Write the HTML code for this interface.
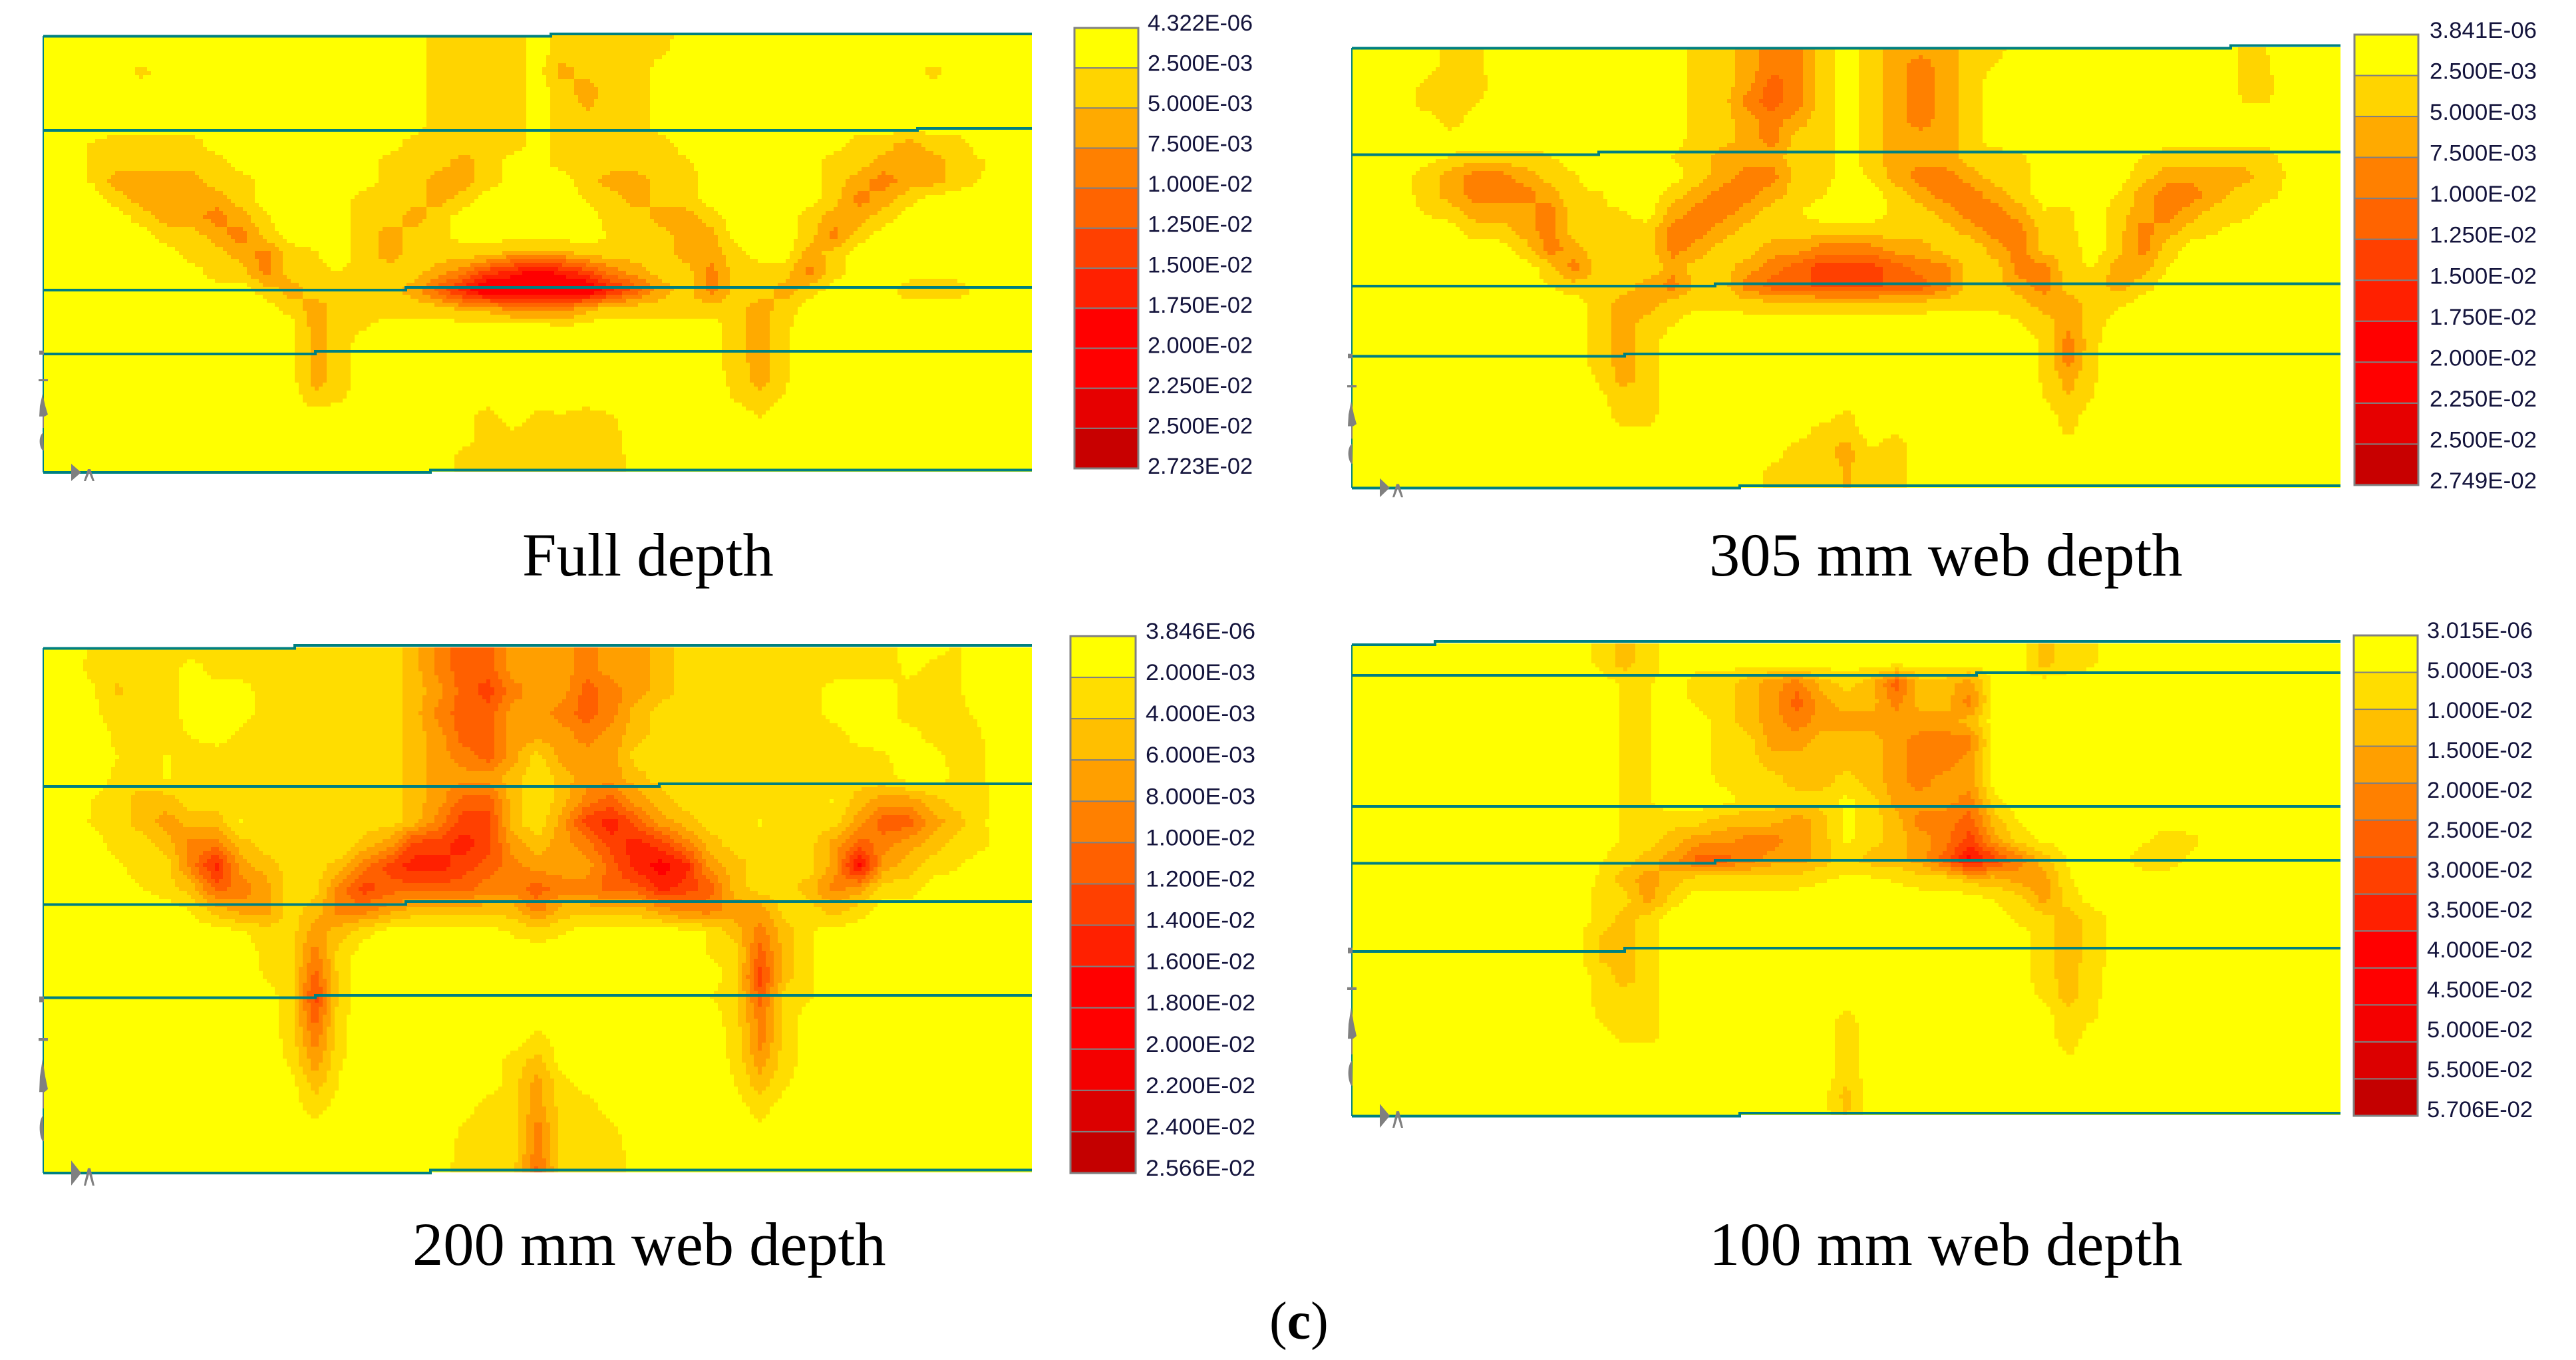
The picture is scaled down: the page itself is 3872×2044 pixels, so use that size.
<!DOCTYPE html>
<html lang="en">
<head>
<meta charset="utf-8">
<title>Strain contours by web depth</title>
<style>
html,body{margin:0;padding:0;background:#fff;width:3872px;height:2044px;overflow:hidden}
svg{display:block}
.flange{fill:none;stroke:#008080;stroke-width:4}
.title{font-family:"Liberation Serif",serif;font-size:92.5px;fill:#000}
.tick{font-family:"Liberation Sans",sans-serif;font-size:34px;fill:#14143c}
.triad{fill:#808080}
</style>
</head>
<body>
<svg id="figure" xmlns="http://www.w3.org/2000/svg" width="3872" height="2044" viewBox="0 0 3872 2044">
<rect width="3872" height="2044" fill="#fff"/>

<g>
<g id="plot-0"></g>
<path class="flange" d="M65 54.5H828V51H1551"/>
<path class="flange" d="M65 196H1379V193H1551"/>
<path class="flange" d="M65 436H610V432H1551"/>
<path class="flange" d="M65 532H474V528H1551"/>
<path class="flange" d="M65 710H647V706.5H1551"/>
<path d="M65 54V710" stroke="#008080" stroke-width="2" fill="none"/>
<g class="triad" transform="translate(65,710)">
<rect x="-6" y="-183" width="7" height="6"/><path d="M-1 -160L-7 -140H7V-137H-7V-140Z"/><path d="M-1 -118L3 -100L7 -87L2 -84H-6L-5 -100Z"/><rect x="-1" y="-84" width="2" height="17"/><path d="M0 -60C-7 -55 -7 -40 -1 -33H1Z"/><path d="M42 -13L57 0L42 13Z"/><path d="M67 -5H71L77 13H74L69 1L64 13H61Z"/>
</g>
<g id="legend-0"></g>
<text class="title" x="785" y="865">Full depth</text>
</g>

<g>
<g id="plot-1"></g>
<path class="flange" d="M2032 72.5H3353V68.5H3518"/>
<path class="flange" d="M2032 232.5H2403V228.5H3518"/>
<path class="flange" d="M2032 430H2578V426.5H3518"/>
<path class="flange" d="M2032 535.5H2442V532H3518"/>
<path class="flange" d="M2032 733.5H2615V730H3518"/>
<path d="M2032 72V733" stroke="#008080" stroke-width="2" fill="none"/>
<g class="triad" transform="translate(2032,733) scale(1,1.1)">
<rect x="-6" y="-183" width="7" height="6"/><path d="M-1 -160L-7 -140H7V-137H-7V-140Z"/><path d="M-1 -118L3 -100L7 -87L2 -84H-6L-5 -100Z"/><rect x="-1" y="-84" width="2" height="17"/><path d="M0 -60C-7 -55 -7 -40 -1 -33H1Z"/><path d="M42 -13L57 0L42 13Z"/><path d="M67 -5H71L77 13H74L69 1L64 13H61Z"/>
</g>
<g id="legend-1"></g>
<text class="title" x="2569" y="865">305 mm web depth</text>
</g>

<g>
<g id="plot-2"></g>
<path class="flange" d="M65 974.5H443V970H1551"/>
<path class="flange" d="M65 1182H991V1178H1551"/>
<path class="flange" d="M65 1359.5H610V1355H1551"/>
<path class="flange" d="M65 1499.5H474V1496H1551"/>
<path class="flange" d="M65 1763H647V1758.5H1551"/>
<path d="M65 974V1763" stroke="#008080" stroke-width="2" fill="none"/>
<g class="triad" transform="translate(65,1763) scale(1,1.45)">
<rect x="-6" y="-183" width="7" height="6"/><path d="M-1 -160L-7 -140H7V-137H-7V-140Z"/><path d="M-1 -118L3 -100L7 -87L2 -84H-6L-5 -100Z"/><rect x="-1" y="-84" width="2" height="17"/><path d="M0 -60C-7 -55 -7 -40 -1 -33H1Z"/><path d="M42 -13L57 0L42 13Z"/><path d="M67 -5H71L77 13H74L69 1L64 13H61Z"/>
</g>
<g id="legend-2"></g>
<text class="title" x="620" y="1901">200 mm web depth</text>
</g>

<g>
<g id="plot-3"></g>
<path class="flange" d="M2032 969H2157V964H3518"/>
<path class="flange" d="M2032 1015H2971V1011H3518"/>
<path class="flange" d="M2032 1212H3518"/>
<path class="flange" d="M2032 1297.5H2578V1293H3518"/>
<path class="flange" d="M2032 1430H2442V1425H3518"/>
<path class="flange" d="M2032 1677.5H2615V1673H3518"/>
<path d="M2032 969V1677" stroke="#008080" stroke-width="2" fill="none"/>
<g class="triad" transform="translate(2032,1677) scale(1,1.38)">
<rect x="-6" y="-183" width="7" height="6"/><path d="M-1 -160L-7 -140H7V-137H-7V-140Z"/><path d="M-1 -118L3 -100L7 -87L2 -84H-6L-5 -100Z"/><rect x="-1" y="-84" width="2" height="17"/><path d="M0 -60C-7 -55 -7 -40 -1 -33H1Z"/><path d="M42 -13L57 0L42 13Z"/><path d="M67 -5H71L77 13H74L69 1L64 13H61Z"/>
</g>
<g id="legend-3"></g>
<text class="title" x="2569" y="1901">100 mm web depth</text>
</g>

<text x="1908" y="2012" font-family="'Liberation Serif',serif" font-size="80" fill="#000">(<tspan font-weight="bold">c</tspan>)</text>
</svg>

<script>
// Legend tick labels and band colours.
const fullDepthTicks = ["4.322E-06","2.500E-03","5.000E-03","7.500E-03","1.000E-02","1.250E-02","1.500E-02","1.750E-02","2.000E-02","2.250E-02","2.500E-02","2.723E-02"];
const web305Ticks = ["3.841E-06","2.500E-03","5.000E-03","7.500E-03","1.000E-02","1.250E-02","1.500E-02","1.750E-02","2.000E-02","2.250E-02","2.500E-02","2.749E-02"];
const web200Ticks = ["3.846E-06","2.000E-03","4.000E-03","6.000E-03","8.000E-03","1.000E-02","1.200E-02","1.400E-02","1.600E-02","1.800E-02","2.000E-02","2.200E-02","2.400E-02","2.566E-02"];
const web100Ticks = ["3.015E-06","5.000E-03","1.000E-02","1.500E-02","2.000E-02","2.500E-02","3.000E-02","3.500E-02","4.000E-02","4.500E-02","5.000E-02","5.500E-02","5.706E-02"];
const elevenBandColors = ["#ffff00","#ffd400","#ffaa00","#ff8000","#ff6400","#ff4000","#ff2000","#ff0000","#ff0000","#e60000","#c80000"];
const thirteenBandColors = ["#ffff00","#ffdd00","#ffbf00","#ff9f00","#ff8000","#ff6000","#ff4000","#ff2000","#ff0000","#ff0000","#f40000","#dc0000","#c40000"];

// Strain at mesh nodes (41 across, 25 down), in multiples of the legend step.
const fullDepthGrid = [
[0,0,0,0,0,0,0,0,0,0, 0,0,0,0,0,0,1,1,1,1, 0,1,1,1,1,1,0,0,0,0, 0,0,0,0,0,0,0,0,0,0,0],
[0,0,0,0,0,0,0,0,0,0, 0,0,0,0,0,0,1,1,1,1, 0,1,1,1,1,.6,0,0,0,0, 0,0,0,0,0,0,0,0,0,0,0],
[0,0,0,0,.8,0,0,0,0,0, 0,0,0,0,0,0,1,1,1,1, 0,2,1,1,1,0,0,0,0,0, 0,0,0,0,0,0,.8,0,0,0,0],
[0,0,0,0,0,0,0,0,0,0, 0,0,0,0,0,0,1,1,1,1, 0,1,2,1,1,0,0,0,0,0, 0,0,0,0,0,0,0,0,0,0,0],
[0,0,0,0,0,0,0,0,0,0, 0,0,0,0,0,0,1,1,1,1, 0,1,1.6,1,1,0,0,0,0,0, 0,0,0,0,0,0,0,0,0,0,0],
[0,0,0,0,0,0,0,0,0,0, 0,0,0,0,0,0,1,1,1,1, 0,1,1,1,1,0,0,0,0,0, 0,0,0,0,0,0,0,0,0,0,0],
[0,0,.6,1,1,1,1,0,0,0, 0,0,0,0,0,1,1,1,1,1, 0,1,1,1,1,1,0,0,0,0, 0,0,0,1,1,2,1,1,0,0,0],
[0,0,.6,1,1,1,1,1,0,0, 0,0,0,0,1,1,1,2,1,0, 0,1,1,1,1,1,.7,0,0,0, 0,0,1,1,2,2,2,1,.6,0,0],
[0,0,.6,2,2,2,2,1,1,0, 0,0,0,0,1,1,2,2,1,0, 0,0,1,2,2,1,1,0,0,0, 0,0,1,2,3,2,2,1,.4,0,0],
[0,0,0,1,2,2,2,2,1,0, 0,0,0,1,1,1,2,1,0,0, 0,0,.6,1,2,1,1,0,0,0, 0,0,1,3,2,1,0,0,0,0,0],
[0,0,0,0,1,2,2,3,2,.6, 0,0,0,1,1,2,1,0,0,0, 0,0,0,1,1,2,2,1,0,0, 0,1,2,2,1,0,0,0,0,0,0],
[0,0,0,0,0,1,1,2,3,1, 0,0,0,1,2,1,1,0,0,0, 0,0,0,.6,1,1,2,2,0,0, 0,1,3,1,0,0,0,0,0,0,0],
[0,0,0,0,0,0,1,1,2,3, 1,.6,0,1,2,1,1,1,1,2, 2,2,1,1,1,1,2,2,1,0, 0,2,1,0,0,0,0,0,0,0,0],
[0,0,0,0,0,0,0,1,1,3, 1,.7,.5,1,1,1,2,3,5,6, 7,6,5,3,2,1,1,3,1,1, 1,3,1,0,0,0,0,0,0,0,0],
[0,0,0,0,0,0,0,0,0,1, 2,1,1,1,1,2,4,6,8,8, 8,8,8,6,4,2,1,3,1,1, 2,1,0,0,0,1,1,1,0,0,0],
[0,0,0,0,0,0,0,0,0,0, 1,2,1,1,1,1,1,2,2,3, 3,3,2,1,1,1,1,1,1,2, 1,0,0,0,0,0,0,0,0,0,0],
[0,0,0,0,0,0,0,0,0,0, 0,2,1,.6,0,0,0,0,0,0, 0,.6,0,0,0,0,0,0,1,2, .7,0,0,0,0,0,0,0,0,0,0],
[0,0,0,0,0,0,0,0,0,0, 0,2,1,0,0,0,0,0,0,0, 0,0,0,0,0,0,0,0,1,2, .6,0,0,0,0,0,0,0,0,0,0],
[0,0,0,0,0,0,0,0,0,0, 0,2,1,0,0,0,0,0,0,0, 0,0,0,0,0,0,0,0,1,2, .6,0,0,0,0,0,0,0,0,0,0],
[0,0,0,0,0,0,0,0,0,0, 0,2,1,0,0,0,0,0,0,0, 0,0,0,0,0,0,0,0,.8,2, .6,0,0,0,0,0,0,0,0,0,0],
[0,0,0,0,0,0,0,0,0,0, 0,1,.6,0,0,0,0,0,0,0, 0,0,0,0,0,0,0,0,.6,1, .4,0,0,0,0,0,0,0,0,0,0],
[0,0,0,0,0,0,0,0,0,0, 0,0,0,0,0,0,0,0,1,0, .8,.6,1,.6,0,0,0,0,0,.5, 0,0,0,0,0,0,0,0,0,0,0],
[0,0,0,0,0,0,0,0,0,0, 0,0,0,0,0,0,0,0,1,.7, 1,1,1,.8,0,0,0,0,0,0, 0,0,0,0,0,0,0,0,0,0,0],
[0,0,0,0,0,0,0,0,0,0, 0,0,0,0,0,0,0,.7,1,1, .8,1,1,1,0,0,0,0,0,0, 0,0,0,0,0,0,0,0,0,0,0],
[0,0,0,0,0,0,0,0,0,0, 0,0,0,0,0,0,0,.7,1,1, .6,1,1,1,0,0,0,0,0,0, 0,0,0,0,0,0,0,0,0,0,0]
];

const web305Grid = [
[0,0,0,0,1,.7,0,0,0,0, 0,0,0,0,1,1,2,3,3,1, 0,1,2,2,2,1,1,0,0,0, 0,0,0,0,0,0,.6,.5,0,0,0],
[0,0,0,0,1,.7,0,0,0,0, 0,0,0,0,1,1,2,3,3,1, 0,1,2,3,2,1,.5,0,0,0, 0,0,0,0,0,0,.6,.6,0,0,0],
[0,0,0,.7,1,1,0,0,0,0, 0,0,0,0,1,1,2,4,3,1, 0,1,2,3,2,1,0,0,0,0, 0,0,0,0,0,0,.6,.7,0,0,0],
[0,0,0,1,1,.6,0,0,0,0, 0,0,0,0,1,1,3,4,3,1, 0,1,2,3,2,1,0,0,0,0, 0,0,0,0,0,0,.5,.6,0,0,0],
[0,0,0,0,1,0,0,0,0,0, 0,0,0,0,1,1,2,3,2,1, 0,1,2,3,2,1,0,0,0,0, 0,0,0,0,0,0,0,0,0,0,0],
[0,0,0,0,0,0,0,0,0,0, 0,0,0,0,1,1,2,3,1,1, 0,1,2,2,2,1,0,0,0,0, 0,0,0,0,0,0,0,0,0,0,0],
[0,0,0,0,.6,.8,.8,.8,.6,0, 0,0,0,.6,1,2,2,2,1,1, 0,1,2,2,2,1,1,.7,0,0, 0,0,.5,1,1,1,1,1,0,0,0],
[0,0,0,1,2,3,3,2,1,.6, 0,0,0,0,1,2,3,3,1,1, 0,.7,2,3,3,2,1,1,0,0, 0,0,1,2,2,2,2,1,.4,0,0],
[0,0,0,1,2,3,3,3,2,.6, .6,0,0,1,2,3,3,2,1,.6, 0,0,1,2,3,3,2,1,0,0, 0,.5,2,3,3,2,1,1,0,0,0],
[0,0,0,.6,1,2,2,2,3,1, .6,.6,0,2,3,3,2,1,.6,0, 0,0,.7,1,2,3,3,2,.6,.7, 0,1,2,3,2,1,1,0,0,0,0],
[0,0,0,0,0,1,1,2,3,1, .6,.6,1,3,3,2,1,1,1,1, 1,1,1,1,1,2,3,3,1,.7, 0,1,3,2,1,.6,0,0,0,0,0],
[0,0,0,0,0,0,0,1,3,2, .6,1,1,3,2,1,1,2,2,3, 3,3,2,2,1,.5,2,3,1,1, 0,1,3,1,0,0,0,0,0,0,0],
[0,0,0,0,0,0,0,0,1,3, 1,1,.6,2,1,1,2,3,4,5, 5,5,4,3,3,1,1,3,3,.7, .5,2,2,.5,0,0,0,0,0,0,0],
[0,0,0,0,0,0,0,0,.5,1, 1,1,2,3,1,1,3,4,4,5, 5,5,4,4,3,1,1,2,3,1, 1,2,1,0,0,0,0,0,0,0,0],
[0,0,0,0,0,0,0,0,0,0, 1,2,2,1,.7,.7,1,1,1,1, 1,1,1,1,.8,.8,.8,1,2,2, 1,.7,0,0,0,0,0,0,0,0,0],
[0,0,0,0,0,0,0,0,0,0, 1,2,1,.6,0,0,0,0,0,0, 0,0,0,0,0,0,0,.5,1,2, 1,0,0,0,0,0,0,0,0,0,0],
[0,0,0,0,0,0,0,0,0,0, 1,2,1,0,0,0,0,0,0,0, 0,0,0,0,0,0,0,0,.7,3, .7,0,0,0,0,0,0,0,0,0,0],
[0,0,0,0,0,0,0,0,0,0, 1,2,1,0,0,0,0,0,0,0, 0,0,0,0,0,0,0,0,.6,3, .6,0,0,0,0,0,0,0,0,0,0],
[0,0,0,0,0,0,0,0,0,0, .6,2,1,0,0,0,0,0,0,0, 0,0,0,0,0,0,0,0,.6,2, .6,0,0,0,0,0,0,0,0,0,0],
[0,0,0,0,0,0,0,0,0,0, .3,1,1,0,0,0,0,0,0,0, 0,0,0,0,0,0,0,0,.5,1.5, .5,0,0,0,0,0,0,0,0,0,0],
[0,0,0,0,0,0,0,0,0,0, 0,1,.8,0,0,0,0,0,0,0, .7,0,0,0,0,0,0,0,0,1, 0,0,0,0,0,0,0,0,0,0,0],
[0,0,0,0,0,0,0,0,0,0, 0,.3,.3,0,0,0,0,0,0,1, 1,0,.5,0,0,0,0,0,0,.6, 0,0,0,0,0,0,0,0,0,0,0],
[0,0,0,0,0,0,0,0,0,0, 0,0,0,0,0,0,0,0,1,1, 2,.6,1,0,0,0,0,0,0,0, 0,0,0,0,0,0,0,0,0,0,0],
[0,0,0,0,0,0,0,0,0,0, 0,0,0,0,0,0,0,.7,1,1, 1.6,.8,1,0,0,0,0,0,0,0, 0,0,0,0,0,0,0,0,0,0,0],
[0,0,0,0,0,0,0,0,0,0, 0,0,0,0,0,0,0,.7,1,1, 1.6,.8,1,0,0,0,0,0,0,0, 0,0,0,0,0,0,0,0,0,0,0]
];

const web200Grid = [
[0,0,.6,1,1,1,1,1,1,1, 1,1,1,1,1,2,4,5,5,3, 3,3,4,3,3,2,1,1,1,1, 1,1,1,1,1,0,.3,.6,0,0,0],
[0,0,.8,1,1,1,0,1,1,1, 1,1,1,1,1,2,4,5,5,3, 3,3,4,3,3,2,1,1,1,1, 1,1,1,1,1,.3,.7,.6,0,0,0],
[0,0,.3,1.7,1,1,0,0,0,1, 1,1,1,1,1,2,3,5,6,4, 3,3,5,4,3,2,1,1,1,1, 1,1,0,0,0,.8,1,.6,0,0,0],
[0,0,.3,1,1,1,0,0,0,1, 1,1,1,1,1,2,4,5,5,3, 3,4,5,4,2,1,1,1,1,1, 1,1,0,0,0,1,1,.7,.3,0,0],
[0,0,0,.7,1,1,.4,0,.8,1, 1,1,1,1,1,2,3,5,5,3, 3,3,4,3,2,1,1,1,1,1, 1,1,1,0,0,0,1,1,.5,0,0],
[0,0,0,.5,1,.4,1,1,1,1, 1,1,1,1,1,2,3,4,5,3, 1,3,3,3,1,1,1,1,1,1, 1,1,1,1,.6,0,0,1,.6,0,0],
[0,0,0,.7,1,.4,1,1,1,1, 1,1,1,1,1,2,3,3,3,2, .6,2,3,3,2,1,1,1,1,1, 1,1,1,1,1,0,0,.7,.6,0,0],
[0,0,.5,1,2,2,1,1,1,1, 1,1,1,1,1,2,3,5,5,2, .6,2,4,5,3,2,1,1,1,1, 1,1,.4,2,3,3,2,1,.7,0,0],
[0,0,.6,1,2,3,2,2,.4,1, 1,1,1,1,1,2,4,6,6,2, .6,3,6,7,5,3,2,1,1,.4, 1,1,1,3,5,5,3,2,.6,0,0],
[0,0,0,1,1,2,4,4,2,1, 1,1,.4,2,3,6,6,7,6,3, 2,3,4,6,7,6,4,2,1,1, 1,1,3,5,4,3,2,1,.7,0,0],
[0,0,0,.3,1,1,4,7,3,2, 1,1,2,4,6,7,7,6,5,4, 3,3,3,5,7,8,7,3,2,1, 1,1,3,8,3,2,1,.6,0,0,0],
[0,0,0,0,.5,1,2,5,4,3, 1,1,4,6,5,5,5,5,4,4, 5,4,4,5,5,7,6,5,2,1, 1,2,4,3,1,1,0,0,0,0,0],
[0,0,0,0,0,0,.5,2,3,3, 1,2,4,4,3,2,2,2,2,2, 4,2,2,2,2,3,4,4,3,3, 1,1,2,1,0,0,0,0,0,0,0],
[0,0,0,0,0,0,0,0,.3,1, 1,3,2,.8,0,0,0,0,0,.6, 1,.6,0,0,0,0,0,.6,2,4, 2,.6,0,0,0,0,0,0,0,0,0],
[0,0,0,0,0,0,0,0,0,.7, 1,4,1,0,0,0,0,0,0,0, 0,0,0,0,0,0,0,.6,1,5, 2,.6,0,0,0,0,0,0,0,0,0],
[0,0,0,0,0,0,0,0,0,.6, 1,5,1,0,0,0,0,0,0,0, 0,0,0,0,0,0,0,0,1,6, 2,.6,0,0,0,0,0,0,0,0,0],
[0,0,0,0,0,0,0,0,0,0, 1,6,1,0,0,0,0,0,0,0, 0,0,0,0,0,0,0,.5,1,5, 1,.6,0,0,0,0,0,0,0,0,0],
[0,0,0,0,0,0,0,0,0,0, 1,5,.7,0,0,0,0,0,0,0, 0,0,0,0,0,0,0,0,1,4, 1,0,0,0,0,0,0,0,0,0,0],
[0,0,0,0,0,0,0,0,0,0, .8,4,.7,0,0,0,0,0,0,0, 1,0,0,0,0,0,0,0,.8,4, 1,0,0,0,0,0,0,0,0,0,0],
[0,0,0,0,0,0,0,0,0,0, .6,3,.6,0,0,0,0,0,0,1, 2,0,0,0,0,0,0,0,.7,3, 1,0,0,0,0,0,0,0,0,0,0],
[0,0,0,0,0,0,0,0,0,0, 0,2,.4,0,0,0,0,0,0,1, 3,1,0,0,0,0,0,0,.5,2, .6,0,0,0,0,0,0,0,0,0,0],
[0,0,0,0,0,0,0,0,0,0, 0,1,0,0,0,0,0,0,1,1, 3,1,1,0,0,0,0,0,0,1, 0,0,0,0,0,0,0,0,0,0,0],
[0,0,0,0,0,0,0,0,0,0, 0,0,0,0,0,0,0,.6,1,1, 4,1,1,.7,0,0,0,0,0,.3, 0,0,0,0,0,0,0,0,0,0,0],
[0,0,0,0,0,0,0,0,0,0, 0,0,0,0,0,0,0,.8,1,1, 4,1,1,1,0,0,0,0,0,0, 0,0,0,0,0,0,0,0,0,0,0],
[0,0,0,0,0,0,0,0,0,0, 0,0,0,0,0,0,0,1,1,1, 5,1,1,1,0,0,0,0,0,0, 0,0,0,0,0,0,0,0,0,0,0]
];

const web100Grid = [
[0,0,0,0,0,0,0,0,0,0, .7,2,1,0,0,0,0,0,0,0, 0,0,0,0,0,0,0,0,2,1, .6,0,0,0,0,0,0,0,0,0,0],
[0,0,0,0,0,0,0,0,0,0, .7,2,1,0,0,0,0,0,0,0, 0,0,0,0,0,0,0,0,2,1, .6,0,0,0,0,0,0,0,0,0,0],
[0,0,0,0,0,0,0,0,0,0, 0,.6,.6,0,1,1,2,3,4,2, 1,2,5,2,2,3,0,0,0,0, 0,0,0,0,0,0,0,0,0,0,0],
[0,0,0,0,0,0,0,0,0,0, 0,.6,.6,0,.7,1,2,3,5,3, 2,2,4,2,2,4,0,0,0,0, 0,0,0,0,0,0,0,0,0,0,0],
[0,0,0,0,0,0,0,0,0,0, 0,.6,.6,0,0,1,2,3,4,3, 3,3,3,3,3,2,0,0,0,0, 0,0,0,0,0,0,0,0,0,0,0],
[0,0,0,0,0,0,0,0,0,0, 0,.6,.6,0,0,1,1,3,3,2, 2,2,3,4,4,4,0,0,0,0, 0,0,0,0,0,0,0,0,0,0,0],
[0,0,0,0,0,0,0,0,0,0, 0,.6,.6,0,0,1,1,2,2,2, 2,2,3,4,4,3,0,0,0,0, 0,0,0,0,0,0,0,0,0,0,0],
[0,0,0,0,0,0,0,0,0,0, 0,.6,.6,0,0,.7,1,1,2,2, 1,2,3,4,3,3,0,0,0,0, 0,0,0,0,0,0,0,0,0,0,0],
[0,0,0,0,0,0,0,0,0,0, 0,.6,.6,0,0,0,1,1,1,1, .3,1,3,3,3,4,.7,0,0,0, 0,0,0,0,0,0,0,0,0,0,0],
[0,0,0,0,0,0,0,0,0,0, 0,.6,.7,1,1,2,2,2,3,2, .3,1,2,4,4,5,2,.4,0,0, 0,0,0,0,0,0,0,0,0,0,0],
[0,0,0,0,0,0,0,0,0,0, 0,.6,1,2,3,3,4,4,3,2, .3,1,2,3,4,6,3,1,.3,0, 0,0,.3,1,.7,0,0,0,0,0,0],
[0,0,0,0,0,0,0,0,0,0, .4,1,2,3,5,5,4,3,3,2, 1,2,2,3,5,8,6,4,2,.4, 0,0,1,1,.3,0,0,0,0,0,0],
[0,0,0,0,0,0,0,0,0,0, .6,2,3,2,1,1,1,1,1,.6, .3,.3,.6,1,1,2,2,3,3,.6, 0,0,0,0,0,0,0,0,0,0,0],
[0,0,0,0,0,0,0,0,0,0, .7,1,3,1,0,0,0,0,0,0, 0,0,0,0,0,0,.6,1,3,1, 0,0,0,0,0,0,0,0,0,0,0],
[0,0,0,0,0,0,0,0,0,0, .7,2,1,0,0,0,0,0,0,0, 0,0,0,0,0,0,0,.7,1,2, 1,0,0,0,0,0,0,0,0,0,0],
[0,0,0,0,0,0,0,0,0,0, 1.6,2,1,0,0,0,0,0,0,0, 0,0,0,0,0,0,0,0,1,2, 1,0,0,0,0,0,0,0,0,0,0],
[0,0,0,0,0,0,0,0,0,0, 1.6,2,1,0,0,0,0,0,0,0, 0,0,0,0,0,0,0,0,1,2, 1,0,0,0,0,0,0,0,0,0,0],
[0,0,0,0,0,0,0,0,0,0, .7,2,1,0,0,0,0,0,0,0, 0,0,0,0,0,0,0,0,1,2, .8,0,0,0,0,0,0,0,0,0,0],
[0,0,0,0,0,0,0,0,0,0, .7,1,1,0,0,0,0,0,0,0, 0,0,0,0,0,0,0,0,.7,2, .7,0,0,0,0,0,0,0,0,0,0],
[0,0,0,0,0,0,0,0,0,0, .6,1,1,0,0,0,0,0,0,0, .8,0,0,0,0,0,0,0,0,1, .6,0,0,0,0,0,0,0,0,0,0],
[0,0,0,0,0,0,0,0,0,0, 0,.8,.8,0,0,0,0,0,0,0, 1,0,0,0,0,0,0,0,0,1, 0,0,0,0,0,0,0,0,0,0,0],
[0,0,0,0,0,0,0,0,0,0, 0,0,0,0,0,0,0,0,0,0, 1,0,0,0,0,0,0,0,0,.5, 0,0,0,0,0,0,0,0,0,0,0],
[0,0,0,0,0,0,0,0,0,0, 0,0,0,0,0,0,0,0,0,0, 1,0,0,0,0,0,0,0,0,0, 0,0,0,0,0,0,0,0,0,0,0],
[0,0,0,0,0,0,0,0,0,0, 0,0,0,0,0,0,0,0,0,0, 2,0,0,0,0,0,0,0,0,0, 0,0,0,0,0,0,0,0,0,0,0],
[0,0,0,0,0,0,0,0,0,0, 0,0,0,0,0,0,0,0,0,0, 1.6,0,0,0,0,0,0,0,0,0, 0,0,0,0,0,0,0,0,0,0,0]
];

// Layout only: where each panel's plot and legend sit on the page.
const panelLayouts = [
  {grid:fullDepthGrid, ticks:fullDepthTicks, colors:elevenBandColors, x0:65, x1:1551, y0:53, y1:709, barX:1615, barW:96, barY0:42, barY1:704, tickX:1725, tickW:158, tickY0:34, tickY1:700},
  {grid:web305Grid, ticks:web305Ticks, colors:elevenBandColors, x0:2032, x1:3518, y0:71, y1:733, barX:3539, barW:96, barY0:52, barY1:729, tickX:3652, tickW:161, tickY0:45, tickY1:722},
  {grid:web200Grid, ticks:web200Ticks, colors:thirteenBandColors, x0:65, x1:1551, y0:973, y1:1762, barX:1609, barW:98, barY0:956, barY1:1763, tickX:1722, tickW:165, tickY0:948, tickY1:1755},
  {grid:web100Grid, ticks:web100Ticks, colors:thirteenBandColors, x0:2032, x1:3518, y0:967, y1:1676, barX:3538, barW:96, barY0:955, barY1:1677, tickX:3648, tickW:159, tickY0:947, tickY1:1667}
];

const SVG_NS = 'http://www.w3.org/2000/svg';
const CELL = 6;

function nodeValue(grid, r, c) {
  const row = grid[Math.min(r, grid.length - 1)];
  return row[c] || 0;
}

function sampleGrid(grid, u, v) {
  const c0 = Math.floor(u);
  const r0 = Math.floor(v);
  const fu = u - c0;
  const fv = v - r0;
  const top = nodeValue(grid, r0, c0) * (1 - fu) + nodeValue(grid, r0, c0 + 1) * fu;
  const bot = nodeValue(grid, r0 + 1, c0) * (1 - fu) + nodeValue(grid, r0 + 1, c0 + 1) * fu;
  return top * (1 - fv) + bot * fv;
}

function drawContours(layout, target) {
  const cols = layout.grid[0].length - 1;
  const rows = layout.grid.length - 1;
  const xScale = function (px) { return (px - layout.x0) / (layout.x1 - layout.x0) * cols; };
  const yScale = function (py) { return (py - layout.y0) / (layout.y1 - layout.y0) * rows; };
  const maxBand = layout.colors.length - 1;
  const paths = layout.colors.map(function () { return []; });
  for (let y = layout.y0; y < layout.y1; y += CELL) {
    const h = Math.min(CELL, layout.y1 - y);
    let runStart = layout.x0;
    let runBand = -1;
    for (let x = layout.x0; x <= layout.x1; x += CELL) {
      let band = -2;
      if (x < layout.x1) {
        const value = sampleGrid(layout.grid, xScale(x + CELL / 2), yScale(y + h / 2));
        band = Math.max(0, Math.min(maxBand, Math.round(value)));
      }
      if (band !== runBand) {
        if (runBand >= 0) {
          const w = Math.min(x, layout.x1) - runStart;
          paths[runBand].push('M' + runStart + ' ' + y + 'h' + w + 'v' + h + 'h' + (-w) + 'z');
        }
        runStart = x;
        runBand = band;
      }
    }
    const last = layout.x0 + Math.floor((layout.x1 - layout.x0) / CELL) * CELL;
    if (runBand >= 0 && last < layout.x1) {
      paths[runBand].push('M' + last + ' ' + y + 'h' + (layout.x1 - last) + 'v' + h + 'h' + (last - layout.x1) + 'z');
    }
  }
  const base = document.createElementNS(SVG_NS, 'rect');
  
  
  base.setAttribute('x', layout.x0);
  base.setAttribute('y', layout.y0);
  base.setAttribute('width', layout.x1 - layout.x0);
  base.setAttribute('height', layout.y1 - layout.y0);
  base.setAttribute('fill', layout.colors[0]);
  target.appendChild(base);
  paths.forEach(function (parts, band) {
    if (!parts.length) return;
    const el = document.createElementNS(SVG_NS, 'path');
    
    
    el.setAttribute('d', parts.join(''));
    el.setAttribute('fill', layout.colors[band]);
    el.setAttribute('shape-rendering', 'crispEdges');
    target.appendChild(el);
  });
}

function drawLegend(layout, target) {
  const count = layout.colors.length;
  const swatchH = (layout.barY1 - layout.barY0) / count;
  layout.colors.forEach(function (color, i) {
    const swatch = document.createElementNS(SVG_NS, 'rect');
    
    
    swatch.setAttribute('x', layout.barX);
    swatch.setAttribute('y', layout.barY0 + i * swatchH);
    swatch.setAttribute('width', layout.barW);
    swatch.setAttribute('height', swatchH);
    swatch.setAttribute('fill', color);
    swatch.setAttribute('stroke', '#808080');
    swatch.setAttribute('stroke-width', '2');
    target.appendChild(swatch);
  });
  const frame = document.createElementNS(SVG_NS, 'rect');
  
  
  frame.setAttribute('x', layout.barX);
  frame.setAttribute('y', layout.barY0);
  frame.setAttribute('width', layout.barW);
  frame.setAttribute('height', layout.barY1 - layout.barY0);
  frame.setAttribute('fill', 'none');
  frame.setAttribute('stroke', '#808080');
  frame.setAttribute('stroke-width', '3');
  target.appendChild(frame);
  const step = (layout.tickY1 - layout.tickY0) / (layout.ticks.length - 1);
  layout.ticks.forEach(function (label, i) {
    const text = document.createElementNS(SVG_NS, 'text');
    
    
    text.setAttribute('class', 'tick');
    text.setAttribute('x', layout.tickX);
    text.setAttribute('y', layout.tickY0 + i * step + 12);
    text.setAttribute('textLength', layout.tickW);
    text.setAttribute('lengthAdjust', 'spacingAndGlyphs');
    text.textContent = label;
    target.appendChild(text);
  });
}

panelLayouts.forEach(function (layout, i) {
  drawContours(layout, document.getElementById('plot-' + i));
  drawLegend(layout, document.getElementById('legend-' + i));
});
</script>
</body>
</html>
